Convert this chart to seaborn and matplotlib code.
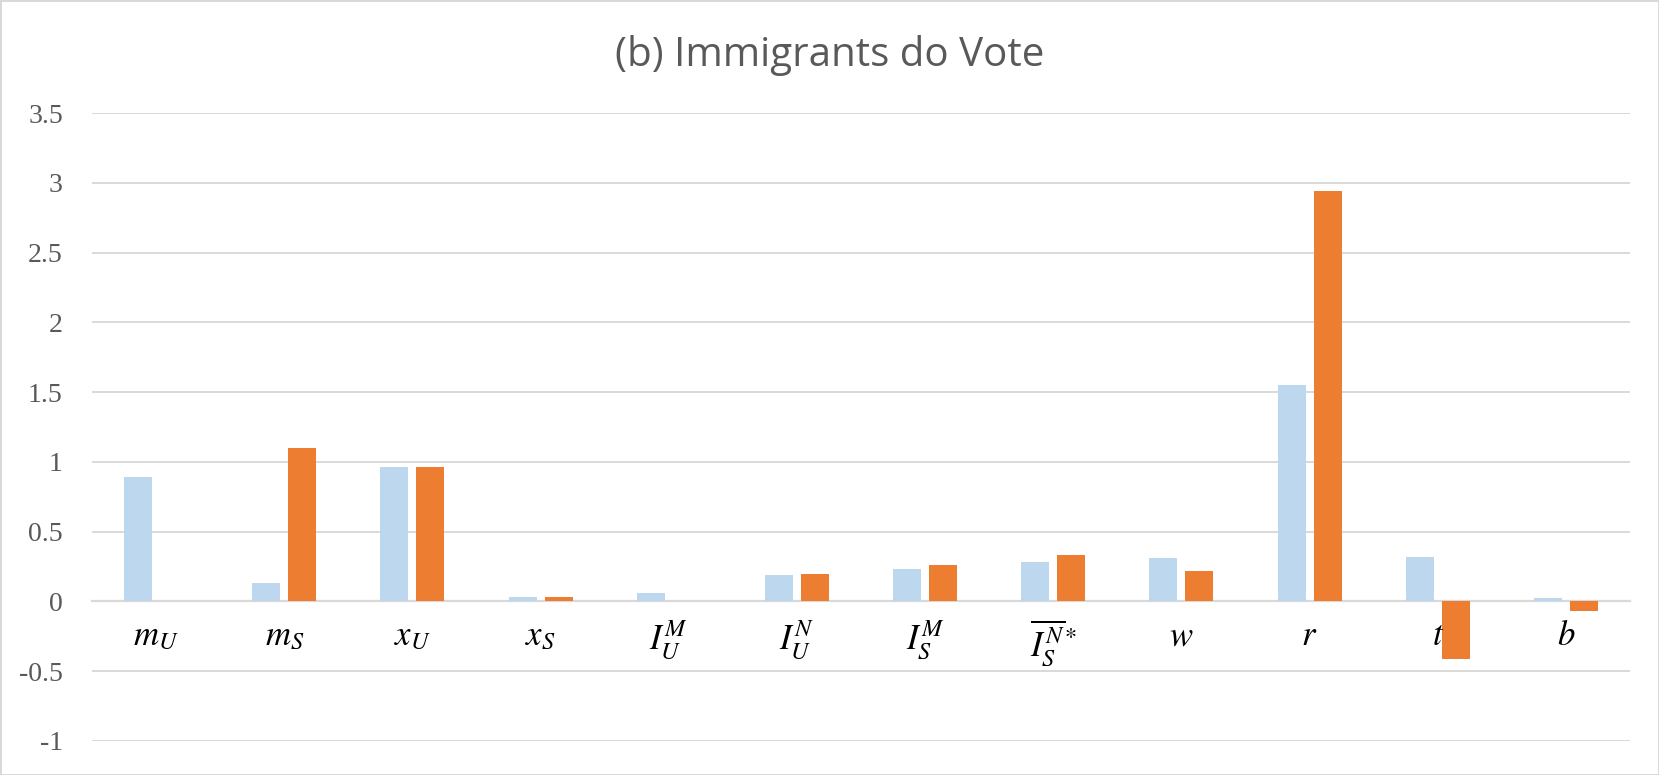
import matplotlib
matplotlib.use("Agg")
import matplotlib.pyplot as plt
import seaborn as sns
import pandas as pd

categories = [r'$m_U$', r'$m_S$', r'$x_U$', r'$x_S$', r'$I_U^M$', r'$I_U^N$',
              r'$I_S^M$', r'$\overline{I_S^N}^{*}$', r'$w$', r'$r$', r'$t$', r'$b$']
series_names = ['Series A', 'Series B']
values_a = [0.89, 0.13, 0.96, 0.03, 0.06, 0.19, 0.23, 0.28, 0.31, 1.55, 0.32, 0.025]
values_b = [0.0, 1.10, 0.96, 0.03, 0.0, 0.20, 0.26, 0.33, 0.22, 2.94, -0.41, -0.065]
yticks = [-1, -0.5, 0, 0.5, 1, 1.5, 2, 2.5, 3, 3.5]
ytick_labels = ['-1', '-0.5', '0', '0.5', '1', '1.5', '2', '2.5', '3', '3.5']
colors = ['#BDD7EE', '#ED7D31']

df = pd.DataFrame({
    'cat': categories * 2,
    'series': [series_names[0]] * len(categories) + [series_names[1]] * len(categories),
    'value': values_a + values_b,
})

sns.set_theme(style='white')
plt.rcParams['mathtext.fontset'] = 'stix'

fig = plt.figure(figsize=(16.59, 7.75), dpi=100, facecolor='white',
                 edgecolor='#D9D9D9', linewidth=2)
ax = fig.add_axes([92 / 1659, 1 - 741 / 775, (1630 - 92) / 1659, (741 - 113) / 775])

sns.barplot(data=df, x='cat', y='value', hue='series', palette=colors,
            width=0.56, gap=0.22, order=categories, hue_order=series_names,
            legend=False, ax=ax, saturation=1, errorbar=None, linewidth=0)

ax.set_ylim(-1, 3.5)
ax.set_xlim(-0.5, len(categories) - 0.5)
ax.set_yticks(yticks)
ax.set_yticklabels(ytick_labels, fontfamily='Liberation Serif', fontsize=20, color='#595959')
ax.yaxis.grid(True, color='#D9D9D9', linewidth=1.4)
ax.set_axisbelow(True)
ax.xaxis.set_zorder(3)
for s in ['left', 'right', 'top']:
    ax.spines[s].set_visible(False)
ax.spines['bottom'].set_position(('data', 0))
ax.spines['bottom'].set_color('#D9D9D9')
ax.spines['bottom'].set_linewidth(1.6)
ax.spines['bottom'].set_zorder(0.8)
ax.tick_params(axis='x', length=0, pad=12, labelsize=25, labelcolor='black')
ax.tick_params(axis='y', length=0, pad=21)
ax.set_xlabel('')
ax.set_ylabel('')

fig.text(0.5, 1 - 56 / 775, '(b) Immigrants do Vote', ha='center', va='center',
         fontsize=29, color='#595959', fontfamily='Open Sans')

fig.savefig('out.png', dpi=100, facecolor='white', edgecolor=fig.get_edgecolor())
